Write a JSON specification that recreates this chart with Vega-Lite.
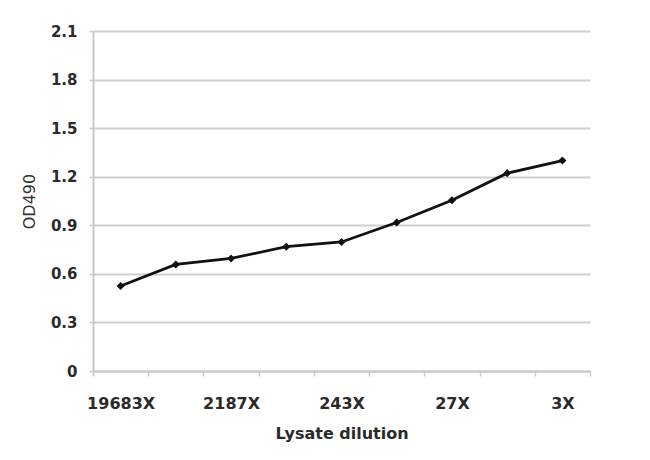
{
  "$schema": "https://vega.github.io/schema/vega-lite/v6.json",
  "width": 497,
  "height": 340,
  "autosize": "none",
  "padding": {"left": 93, "top": 31, "right": 60, "bottom": 89},
  "background": "white",
  "config": {"view": {"stroke": null}, "font": "DejaVu Sans"},
  "data": {
    "values": [
      {"dilution": "19683X", "od": 0.525},
      {"dilution": "6561X", "od": 0.658},
      {"dilution": "2187X", "od": 0.695},
      {"dilution": "729X", "od": 0.768},
      {"dilution": "243X", "od": 0.797},
      {"dilution": "81X", "od": 0.917},
      {"dilution": "27X", "od": 1.055},
      {"dilution": "9X", "od": 1.222},
      {"dilution": "3X", "od": 1.3}
    ]
  },
  "encoding": {
    "x": {
      "field": "dilution",
      "type": "ordinal",
      "sort": null,
      "scale": {"paddingInner": 0, "paddingOuter": 0},
      "axis": {
        "title": "Lysate dilution",
        "titleFont": "DejaVu Sans",
        "titleFontSize": 16,
        "titleFontWeight": "bold",
        "titleColor": "#2a2a2a",
        "titlePadding": 14,
        "labelAngle": 0,
        "labelFont": "DejaVu Sans",
        "labelFontSize": 16,
        "labelFontWeight": "bold",
        "labelColor": "#2a2a2a",
        "labelPadding": 19,
        "labelExpr": "indexof(['19683X','2187X','243X','27X','3X'], datum.value) >= 0 ? datum.label : ''",
        "tickBand": "extent",
        "tickColor": "#c8c8c8",
        "tickSize": 5,
        "tickWidth": 1.5,
        "domainColor": "#c8c8c8",
        "domainWidth": 2,
        "grid": false
      }
    },
    "y": {
      "field": "od",
      "type": "quantitative",
      "scale": {"domain": [0, 2.1], "nice": false},
      "axis": {
        "title": "OD490",
        "titleFont": "DejaVu Sans",
        "titleFontSize": 16,
        "titleFontWeight": "normal",
        "titleColor": "#333333",
        "titlePadding": 13,
        "values": [0, 0.3, 0.6, 0.9, 1.2, 1.5, 1.8, 2.1],
        "labelExpr": "datum.value == 0 ? '0' : format(datum.value, '.1f')",
        "labelFont": "DejaVu Sans",
        "labelFontSize": 15,
        "labelFontWeight": "bold",
        "labelColor": "#2a2a2a",
        "labelPadding": 12,
        "tickColor": "#c8c8c8",
        "tickSize": 4,
        "tickWidth": 1.5,
        "domainColor": "#c8c8c8",
        "domainWidth": 2,
        "grid": true,
        "gridColor": "#cfcfcf",
        "gridWidth": 2
      }
    }
  },
  "layer": [
    {"mark": {"type": "line", "color": "#111111", "strokeWidth": 2.8}},
    {"mark": {"type": "point", "shape": "diamond", "filled": true, "color": "#111111", "size": 65, "opacity": 1}}
  ]
}
